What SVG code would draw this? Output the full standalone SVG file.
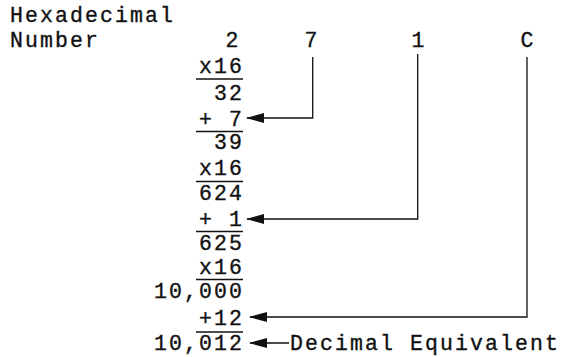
<svg xmlns="http://www.w3.org/2000/svg" width="579" height="357" viewBox="0 0 579 357">
<style>
text{font-family:"Liberation Mono","DejaVu Sans Mono",monospace;font-size:21.5px;letter-spacing:2.1px;fill:#111;stroke:#111;stroke-width:0.35px}
.r{text-anchor:end}
.c{text-anchor:middle}
.rule{stroke:#111;stroke-width:1.6}
.conn{fill:none;stroke:#111;stroke-width:1.3}
</style>
<defs>
<marker id="ah" markerUnits="userSpaceOnUse" viewBox="0 0 18 10" refX="17" refY="5" markerWidth="18" markerHeight="10" orient="auto">
<path d="M0,0 L18,5 L0,10 z" fill="#111"/>
</marker>
</defs>
<g id="label">
<text x="10" y="22">Hexadecimal</text>
<text x="10" y="47">Number</text>
</g>
<g id="digits">
<text x="233" y="47" class="c">2</text>
<text x="312" y="47" class="c">7</text>
<text x="419" y="47" class="c">1</text>
<text x="528" y="47" class="c">C</text>
</g>
<g id="work">
<text x="244" y="73" class="r">x16</text>
<line x1="196" y1="79" x2="243" y2="79" class="rule"/>
<text x="244" y="100" class="r">32</text>
<text x="244" y="126" class="r" xml:space="preserve">+ 7</text>
<line x1="196" y1="131.5" x2="243" y2="131.5" class="rule"/>
<text x="244" y="148.5" class="r">39</text>
<text x="244" y="175" class="r">x16</text>
<line x1="196" y1="181.5" x2="243" y2="181.5" class="rule"/>
<text x="244" y="200" class="r">624</text>
<text x="244" y="226" class="r" xml:space="preserve">+ 1</text>
<line x1="196" y1="231.5" x2="243" y2="231.5" class="rule"/>
<text x="244" y="250" class="r">625</text>
<text x="244" y="273.5" class="r">x16</text>
<line x1="196" y1="279.5" x2="243" y2="279.5" class="rule"/>
<text x="244" y="298" class="r">10,000</text>
<text x="244" y="325" class="r">+12</text>
<line x1="196" y1="332" x2="243" y2="332" class="rule"/>
<text x="244" y="350" class="r">10,012</text>
</g>
<g id="result">
<text x="290" y="350">Decimal Equivalent</text>
</g>
<g id="connectors">
<path class="conn" d="M312.7,57 V118 H247" marker-end="url(#ah)"/>
<path class="conn" d="M417.7,54 V219 H247" marker-end="url(#ah)"/>
<path class="conn" d="M527,57 V317 H250" marker-end="url(#ah)"/>
<path class="conn" d="M289,343 H250" marker-end="url(#ah)"/>
</g>
</svg>
